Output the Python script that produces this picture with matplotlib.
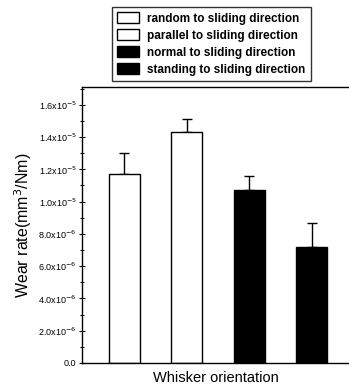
import matplotlib
matplotlib.use("Agg")
import matplotlib.pyplot as plt
import numpy as np
from matplotlib.patches import Patch
from matplotlib.ticker import FixedLocator, MultipleLocator

plt.rcParams["font.family"] = ["Liberation Sans", "DejaVu Sans"]

labels = ["random to sliding direction", "parallel to sliding direction",
          "normal to sliding direction", "standing to sliding direction"]
wear_rate = [1.17e-5, 1.43e-5, 1.07e-5, 7.2e-6]
wear_err = [1.3e-6, 0.8e-6, 0.9e-6, 1.5e-6]
fill_colors = ["white", "white", "black", "black"]
ytick_vals = [0, 2e-6, 4e-6, 6e-6, 8e-6, 1.0e-5, 1.2e-5, 1.4e-5, 1.6e-5]
ytick_text = ["0.0", r"2.0x10$^{-6}$", r"4.0x10$^{-6}$", r"6.0x10$^{-6}$", r"8.0x10$^{-6}$",
              r"1.0x10$^{-5}$", r"1.2x10$^{-5}$", r"1.4x10$^{-5}$", r"1.6x10$^{-5}$"]

fig = plt.figure(figsize=(3.49, 3.91), dpi=100)
ax = fig.add_axes([82 / 349, 1 - 363 / 391, 1 - 82 / 349, (363 - 87) / 391])

x = np.arange(len(wear_rate))
ax.bar(x, wear_rate, width=0.5, color=fill_colors, edgecolor="black", linewidth=1.0, zorder=2)
ax.errorbar(x, wear_rate, yerr=[np.zeros(len(wear_err)), wear_err], fmt="none",
            ecolor="black", elinewidth=1.0, capsize=3.5, capthick=1.0, zorder=1)

ax.set_xlim(-0.68, 3.6)
ax.set_ylim(0, 1.71e-5)
ax.yaxis.set_major_locator(FixedLocator(ytick_vals))
ax.set_yticklabels(ytick_text, fontsize=6.5)
ax.yaxis.set_minor_locator(MultipleLocator(1e-6))
ax.tick_params(axis="y", which="major", direction="inout", length=4, width=0.8, pad=2)
ax.tick_params(axis="y", which="minor", direction="inout", length=2.5, width=0.8)
ax.set_xticks([])
ax.spines["right"].set_visible(False)
for s in ["left", "bottom", "top"]:
    ax.spines[s].set_linewidth(1.0)

ax.set_ylabel("Wear rate(mm$^3$/Nm)", fontsize=11.5, labelpad=3)
ax.set_xlabel("Whisker orientation", fontsize=10.5, labelpad=6)

handles = [Patch(facecolor=c, edgecolor="black", linewidth=1.0) for c in fill_colors]
leg = fig.legend(handles, labels, loc="upper left", bbox_to_anchor=(112 / 349, 1 - 7 / 391),
                 prop={"size": 8.5, "weight": "bold"}, frameon=True, fancybox=False,
                 edgecolor="black", handlelength=1.85, handleheight=1.0, handletextpad=0.7,
                 labelspacing=0.4, borderpad=0.45, borderaxespad=0)
leg.get_frame().set_linewidth(1.0)

fig.savefig("out.png", dpi=100)
